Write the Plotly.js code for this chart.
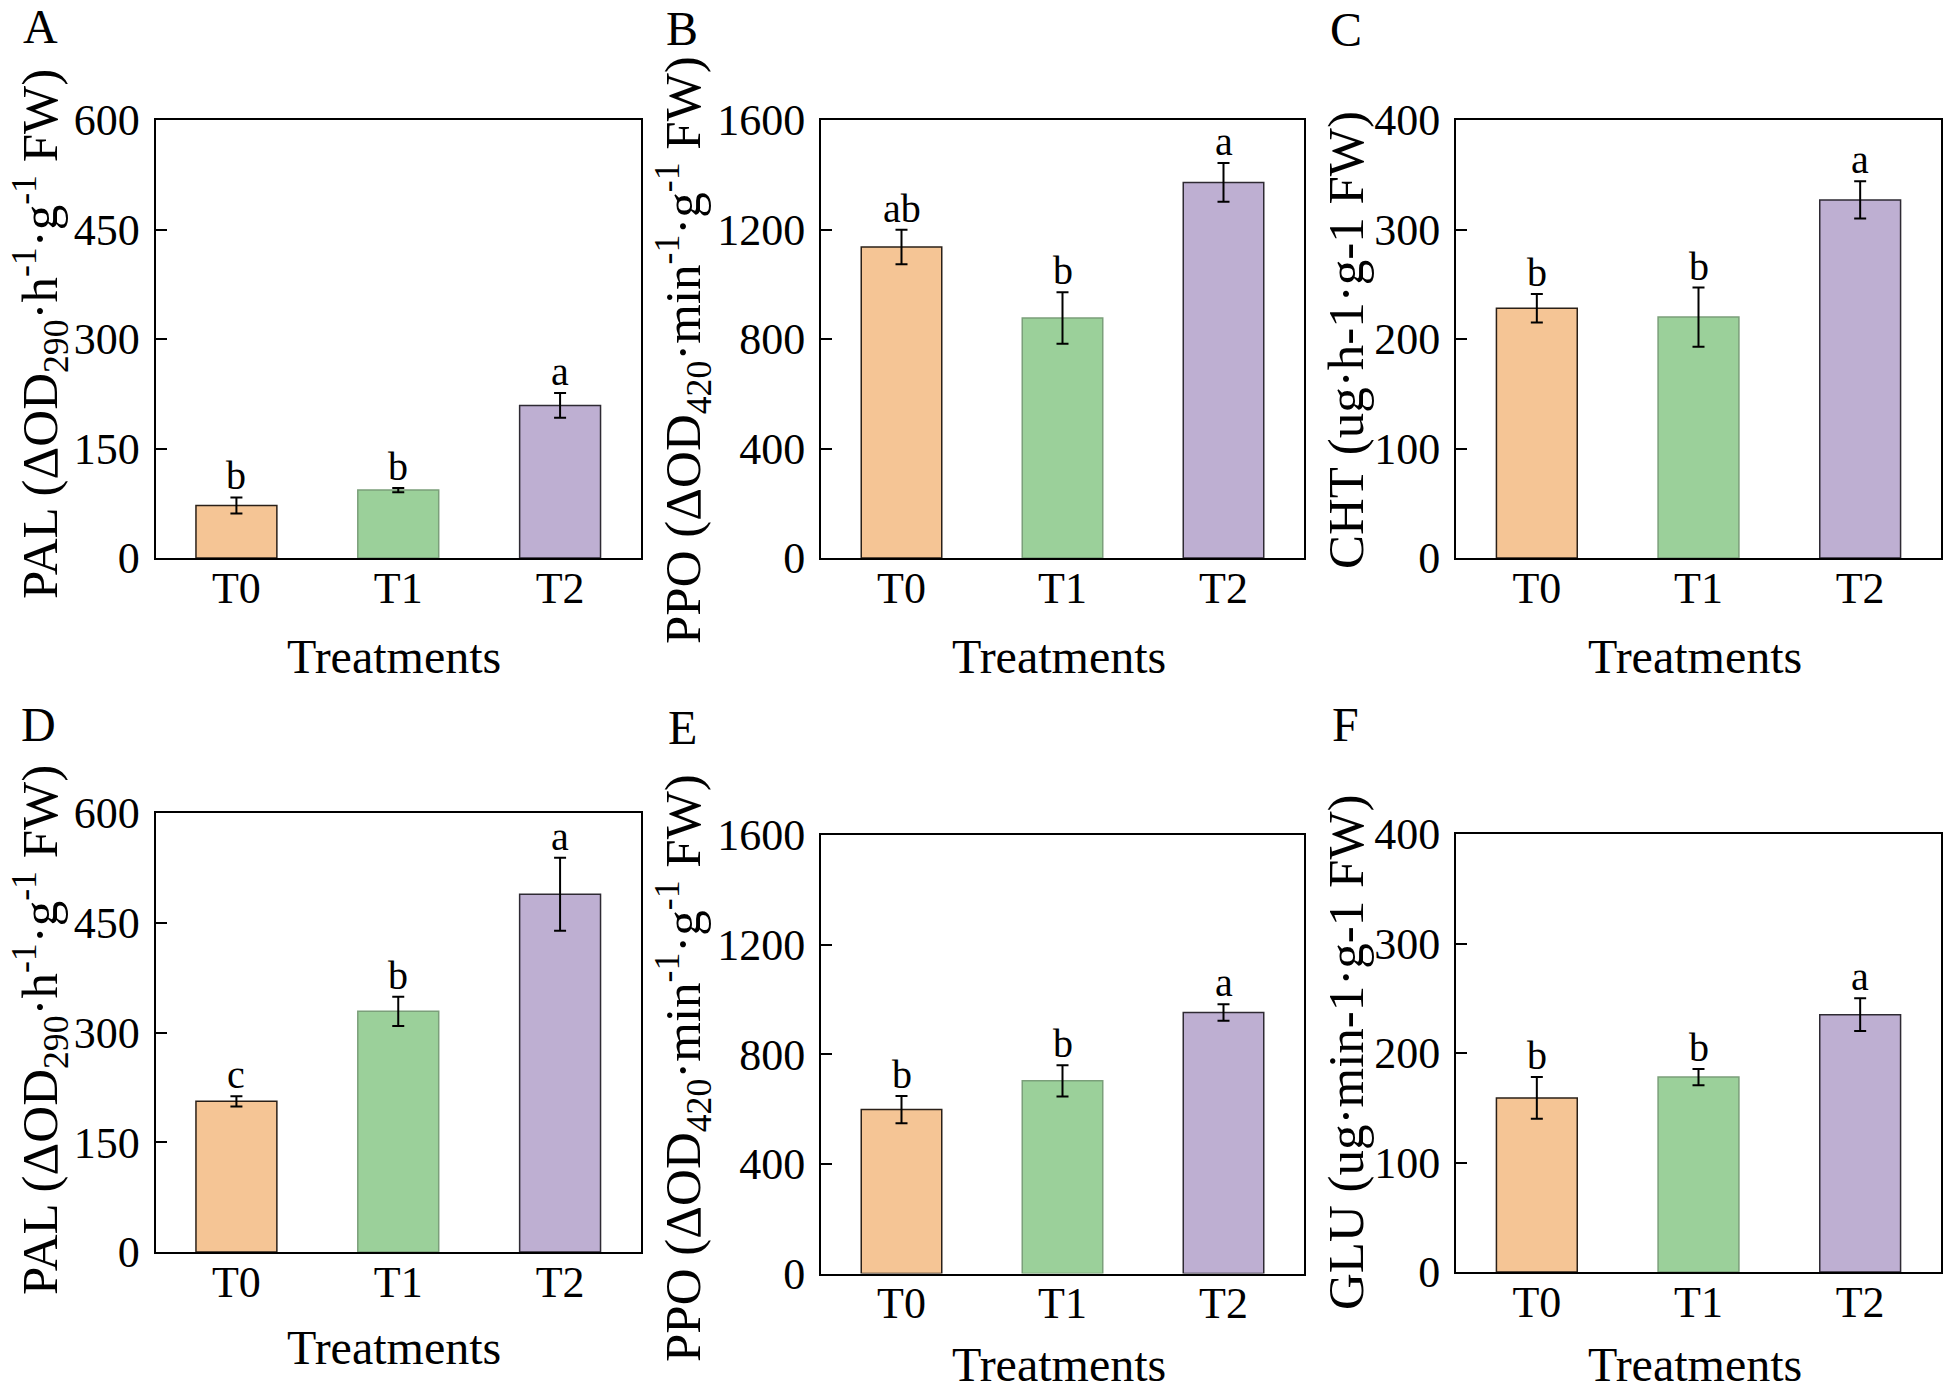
<!DOCTYPE html>
<html>
<head>
<meta charset="utf-8">
<script src="https://cdn.plot.ly/plotly-3.0.1.min.js"></script>
<style>
  body { margin: 0; background: #fff; }
  #chart { width: 1951px; height: 1394px; }
</style>
</head>
<body>
<div id="chart"></div>
<script>
// ----------------------------- data ------------------------------------------
var treatments = ["T0", "T1", "T2"];

// A - PAL (top row)
var palTopMean = [72, 93, 209];
var palTopErr = [11, 3, 17];
var palTopSig = ["b", "b", "a"];

// B - PPO (top row)
var ppoTopMean = [1136, 877, 1372];
var ppoTopErr = [63, 94, 71];
var ppoTopSig = ["ab", "b", "a"];

// C - CHT
var chtMean = [228, 220, 327];
var chtErr = [13, 27, 17];
var chtSig = ["b", "b", "a"];

// D - PAL (bottom row)
var palBotMean = [206, 329, 489];
var palBotErr = [7, 20, 50];
var palBotSig = ["c", "b", "a"];

// E - PPO (bottom row)
var ppoBotMean = [598, 703, 952];
var ppoBotErr = [50, 57, 30];
var ppoBotSig = ["b", "b", "a"];

// F - GLU
var gluMean = [159, 178, 235];
var gluErr = [19, 7.5, 15];
var gluSig = ["b", "b", "a"];

var palTicks = [0, 150, 300, 450, 600];
var ppoTicks = [0, 400, 800, 1200, 1600];
var hundredTicks = [0, 100, 200, 300, 400];

var palTitle = "PAL (\u0394OD<sub>290</sub>\u00b7h<sup>-1</sup>\u00b7g<sup>-1</sup> FW)";
var ppoTitle = "PPO (\u0394OD<sub>420</sub>\u00b7min<sup>-1</sup>\u00b7g<sup>-1</sup> FW)";
var chtTitle = "CHT (ug\u00b7h-1\u00b7g-1 FW)";
var gluTitle = "GLU (ug\u00b7min-1\u00b7g-1 FW)";
// =============================================================================


// ----------------------------- style -----------------------------------------
var W = 1951, H = 1394;
var FONT = "Liberation Serif, Times New Roman, serif";
var barFill = ["#F5C595", "#9BD09A", "#BEAFD2"];
var barEdge = ["#2a2018", "#7b9f7a", "#2e2a33"];

// plot boxes in pixels [left, top, right, bottom]
var panels = [
  {id: "A", box: [155.5, 120, 641, 558], mean: palTopMean, err: palTopErr, sig: palTopSig,
   ticks: palTicks, title: palTitle, titlePos: [40, 334], xTitleY: 656},
  {id: "B", box: [821, 120, 1304, 558], mean: ppoTopMean, err: ppoTopErr, sig: ppoTopSig,
   ticks: ppoTicks, title: ppoTitle, titlePos: [683, 350], xTitleY: 656},
  {id: "C", box: [1456, 120, 1941, 558], mean: chtMean, err: chtErr, sig: chtSig,
   ticks: hundredTicks, title: chtTitle, titlePos: [1346, 340], xTitleY: 656},
  {id: "D", box: [155.5, 813, 641, 1252], mean: palBotMean, err: palBotErr, sig: palBotSig,
   ticks: palTicks, title: palTitle, titlePos: [40, 1030], xTitleY: 1347},
  {id: "E", box: [821, 835, 1304, 1273.5], mean: ppoBotMean, err: ppoBotErr, sig: ppoBotSig,
   ticks: ppoTicks, title: ppoTitle, titlePos: [683, 1068], xTitleY: 1364},
  {id: "F", box: [1456, 834, 1941, 1272], mean: gluMean, err: gluErr, sig: gluSig,
   ticks: hundredTicks, title: gluTitle, titlePos: [1346, 1052], xTitleY: 1364}
];
var letterPos = [[40, 26], [682, 28], [1346, 30], [38, 724], [682, 727], [1345, 724]];
// =============================================================================


// ----------------------------- build -----------------------------------------
var data = [];
var layout = {
  width: W,
  height: H,
  margin: {l: 0, r: 0, t: 0, b: 0},
  paper_bgcolor: "#fff",
  plot_bgcolor: "#fff",
  showlegend: false,
  bargap: 0.5,
  font: {family: FONT, color: "#000", size: 44},
  annotations: []
};

function px2x(p) { return p / W; }
function px2y(p) { return 1 - p / H; }

panels.forEach(function (p, i) {
  var n = i + 1;
  var xa = "x" + n, ya = "y" + n;
  var b = p.box;

  data.push({
    type: "bar",
    x: treatments,
    y: p.mean,
    xaxis: xa,
    yaxis: ya,
    marker: {color: barFill, line: {color: barEdge, width: 1.5}},
    error_y: {type: "data", array: p.err, visible: true, color: "#000", thickness: 2, width: 6},
    hoverinfo: "x+y"
  });

  layout["xaxis" + n] = {
    domain: [px2x(b[0]), px2x(b[2])],
    anchor: ya,
    range: [-0.5, 2.5],
    showline: true, linecolor: "#000", linewidth: 2, mirror: true,
    ticks: "", showgrid: false, zeroline: false,
    tickfont: {family: FONT, size: 44},
    ticklabelstandoff: -10
  };
  layout["yaxis" + n] = {
    domain: [px2y(b[3]), px2y(b[1])],
    anchor: xa,
    range: [0, p.ticks[p.ticks.length - 1]],
    tickmode: "array",
    tickvals: p.ticks,
    showline: true, linecolor: "#000", linewidth: 2, mirror: true,
    ticks: "inside", ticklen: 11, tickwidth: 2, tickcolor: "#000",
    showgrid: false, zeroline: false,
    tickfont: {family: FONT, size: 44},
    ticklabelstandoff: 5
  };

  // significance letters above the error bars
  for (var k = 0; k < treatments.length; k++) {
    layout.annotations.push({
      xref: xa, yref: ya,
      x: treatments[k], y: p.mean[k] + p.err[k],
      text: p.sig[k], showarrow: false,
      yanchor: "bottom", yshift: -3,
      font: {family: FONT, size: 40, color: "#000"}
    });
  }

  // y title
  layout.annotations.push({
    xref: "paper", yref: "paper",
    x: px2x(p.titlePos[0]), y: px2y(p.titlePos[1]),
    xanchor: "center", yanchor: "middle",
    text: p.title, textangle: -90, showarrow: false,
    font: {family: FONT, size: 51, color: "#000"}
  });

  // x title
  layout.annotations.push({
    xref: "paper", yref: "paper",
    x: px2x((b[0] + b[2]) / 2 - 4), y: px2y(p.xTitleY),
    xanchor: "center", yanchor: "middle",
    text: "Treatments", showarrow: false,
    font: {family: FONT, size: 48, color: "#000"}
  });

  // panel letter
  layout.annotations.push({
    xref: "paper", yref: "paper",
    x: px2x(letterPos[i][0]), y: px2y(letterPos[i][1]),
    xanchor: "center", yanchor: "middle",
    text: p.id, showarrow: false,
    font: {family: FONT, size: 48, color: "#000"}
  });
});

Plotly.newPlot("chart", data, layout, {displayModeBar: false, staticPlot: true});
// =============================================================================
</script>
</body>
</html>
